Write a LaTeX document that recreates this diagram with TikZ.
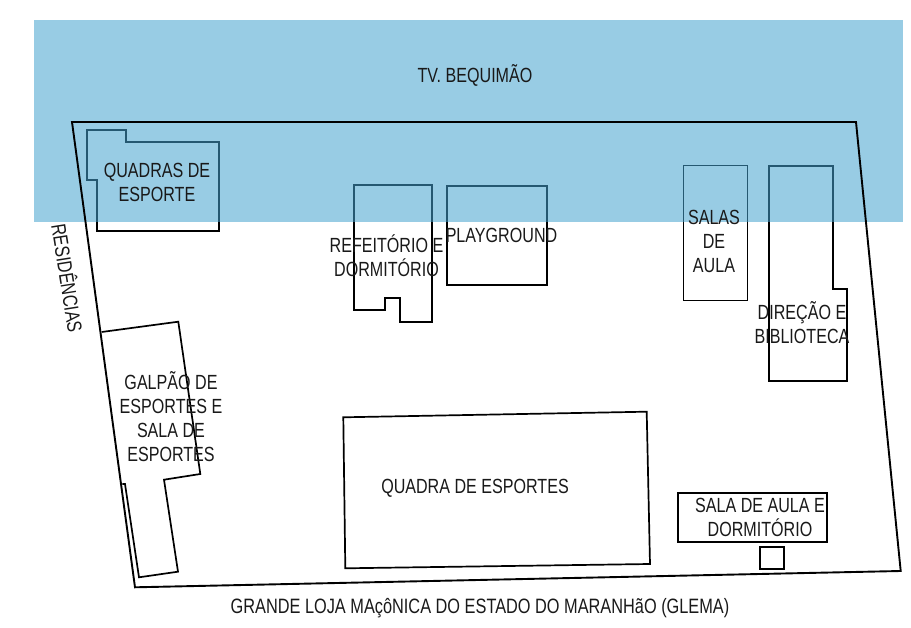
\documentclass[tikz,border=0pt]{standalone}
\usepackage{fontspec}
\setmainfont[FakeStretch=0.785]{Liberation Sans}
\definecolor{bandblue}{rgb}{0.265,0.636,0.807}
\tikzset{
  building/.style={draw=black,line width=1.7pt,line join=miter},
  thinbuilding/.style={draw=black,line width=1pt},
  wall/.style={draw=black,line width=1.9pt,line join=miter},
  band/.style={fill=bandblue,fill opacity=0.55,draw=none},
  lbl/.style={font=\fontsize{20.5}{24}\selectfont,align=center,inner sep=0pt,text=black!90}
}
\begin{document}
\begin{tikzpicture}[x=1pt,y=-1pt]
\useasboundingbox (0,0) rectangle (911,628);
% buildings (under the blue band)
\draw[building] (86.7,130) -- (125.7,130) -- (125.7,141.7) -- (218.7,141.7) -- (218.7,231.3) -- (97.3,231.3) -- (97.3,180) -- (86.7,180) -- cycle;
\draw[building] (354,184.7) -- (432.3,184.7) -- (432.3,321.7) -- (400,321.7) -- (400,298.3) -- (385,298.3) -- (385,309.7) -- (354,309.7) -- cycle;
\draw[building] (446.7,185.7) rectangle (546.7,285);
\draw[thinbuilding] (683.3,165.7) rectangle (747.3,300.3);
\draw[building] (769.3,165.7) -- (833,165.7) -- (833,288.7) -- (846.7,288.7) -- (846.7,381) -- (769.3,381) -- cycle;
% road band
\fill[band] (34,20) rectangle (903,222);
% site walls and remaining buildings
\draw[wall] (72,122) -- (856,122) -- (900.7,571) -- (135,587.3) -- cycle;
\draw[building] (101.7,332) -- (178.3,321.7) -- (200.3,474) -- (164,479.7) -- (178,571.7) -- (139,577.3) -- (125,484) -- (122.3,484);
\draw[building] (343.3,417.3) -- (646.7,411.7) -- (650,564) -- (345.3,568.3) -- cycle;
\draw[building] (678.3,493.3) rectangle (827.3,541.7);
\draw[building] (760,547) rectangle (783.7,569.3);
% labels
\node[lbl] (road) at (475,75) {TV. BEQUIMÃO};
\node[lbl] (quadras) at (157,182.5) {QUADRAS DE\\ESPORTE};
\node[lbl] (resid) at (68.5,278) [rotate=-81] {RESIDÊNCIAS};
\node[lbl] (refeit) at (386.5,256) {REFEITÓRIO E\\DORMITÓRIO};
\node[lbl] (play) at (501.5,235) {PLAYGROUND};
\node[lbl] (salas) at (714,241) {SALAS\\DE\\AULA};
\node[lbl] (direc) at (802,323) {DIREÇÃO E\\BIBLIOTECA};
\node[lbl] (galpao) at (171,417) {GALPÃO DE\\ESPORTES E\\SALA DE\\ESPORTES};
\node[lbl] (quadra) at (475,488) {QUADRA DE ESPORTES};
\node[lbl] (salaaula) at (760,517.5) {SALA DE AULA E\\DORMITÓRIO};
\node[lbl,font=\fontsize{20.8}{24}\selectfont] (glema) at (480,608) {GRANDE LOJA MAçôNICA DO ESTADO DO MARANHãO (GLEMA)};
\end{tikzpicture}
\end{document}
